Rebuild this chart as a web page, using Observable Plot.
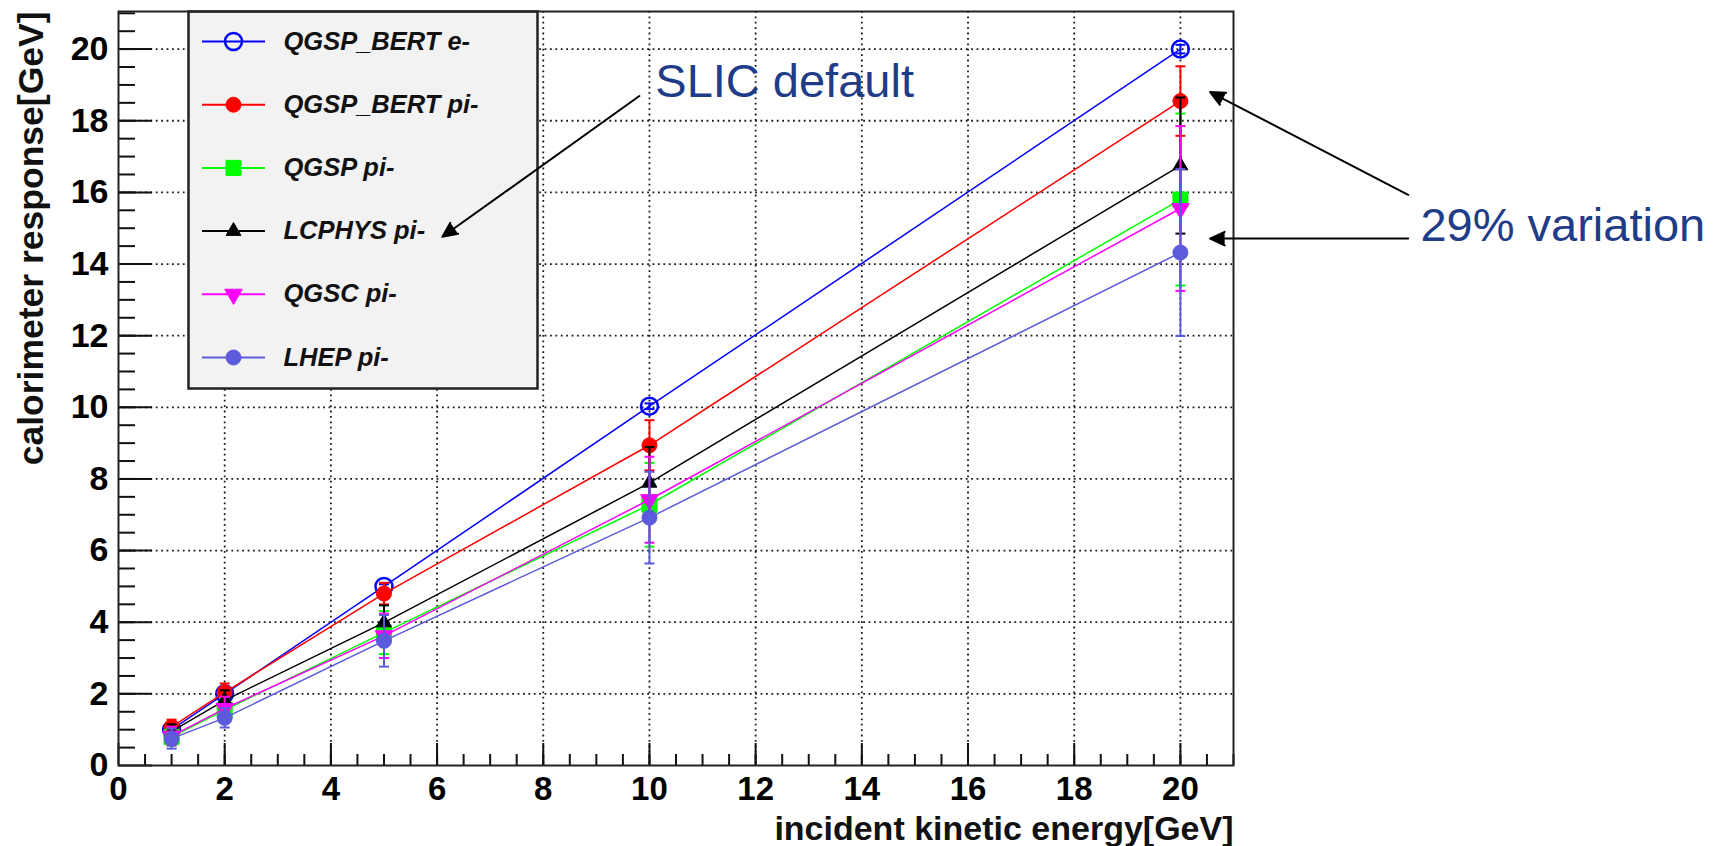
<!DOCTYPE html>
<html>
<head>
<meta charset="utf-8">
<script src="https://cdn.jsdelivr.net/npm/d3@7"></script>
<script src="https://cdn.jsdelivr.net/npm/@observablehq/plot@0.6"></script>
<style>
html, body { margin: 0; padding: 0; background: #fff; }
#chart { width: 1713px; height: 846px; }
</style>
</head>
<body>
<div id="chart"></div>
<script>
// ---------- data ----------
const energies = [1, 2, 5, 10, 20];
const seriesNames = ["QGSP_BERT e-", "QGSP_BERT pi-", "QGSP pi-", "LCPHYS pi-", "QGSC pi-", "LHEP pi-"];
const seriesColors = ["#0000ff", "#ff0000", "#00ff00", "#000000", "#ff00ff", "#5b5bdc"];

const respQGSPBERTe  = [1.00, 2.00, 5.00, 10.03, 20.00];
const errQGSPBERTe   = [0.03, 0.04, 0.06, 0.08, 0.12];
const respQGSPBERTpi = [1.08, 2.04, 4.80, 8.94, 18.55];
const errQGSPBERTpi  = [0.20, 0.25, 0.30, 0.70, 0.97];
const respQGSPpi     = [0.80, 1.55, 3.71, 7.28, 15.80];
const errQGSPpi      = [0.25, 0.32, 0.60, 1.17, 2.40];
const respLCPHYSpi   = [0.95, 1.82, 3.99, 7.89, 16.75];
const errLCPHYSpi    = [0.20, 0.28, 0.48, 1.00, 1.90];
const respQGSCpi     = [0.82, 1.59, 3.62, 7.42, 15.55];
const errQGSCpi      = [0.26, 0.33, 0.62, 1.20, 2.30];
const respLHEPpi     = [0.75, 1.33, 3.48, 6.92, 14.32];
const errLHEPpi      = [0.28, 0.27, 0.72, 1.28, 2.33];

const xTickLabels = [0, 2, 4, 6, 8, 10, 12, 14, 16, 18, 20];
const yTickLabels = [0, 2, 4, 6, 8, 10, 12, 14, 16, 18, 20];

const xTitle = "incident kinetic energy[GeV]";
const yTitle = "calorimeter response[GeV]";

const annotationLabels = [
  {text: "SLIC default", x: 10.11, y: 18.66},
  {text: "29% variation", x: 24.52, y: 14.65}
];
const annotationArrows = [
  {x1: 9.81, y1: 18.69, x2: 6.10, y2: 14.76},
  {x1: 24.29, y1: 15.93, x2: 20.56, y2: 18.80},
  {x1: 24.29, y1: 14.71, x2: 20.56, y2: 14.71}
];

// ---------- layout / styles ----------
const W = 1713, H = 846;
const M = {left: 118, right: 480, top: 11, bottom: 81};
const frameW = W - M.left - M.right;
const frameH = H - M.top - M.bottom;
const font = "'Liberation Sans', Arial, Helvetica, sans-serif";

const responses = [respQGSPBERTe, respQGSPBERTpi, respQGSPpi, respLCPHYSpi, respQGSCpi, respLHEPpi];
const errors = [errQGSPBERTe, errQGSPBERTpi, errQGSPpi, errLCPHYSpi, errQGSCpi, errLHEPpi];
const markerStyles = [
  {symbol: "circle", r: 8.5, fill: "none", sw: 2.5, rotate: 0},
  {symbol: "circle", r: 7.5, fill: "color", sw: 1, rotate: 0},
  {symbol: "square", r: 8.5, fill: "color", sw: 1, rotate: 0},
  {symbol: "triangle", r: 5.5, fill: "color", sw: 1, rotate: 0},
  {symbol: "triangle", r: 6.5, fill: "color", sw: 1, rotate: 180},
  {symbol: "circle", r: 7.5, fill: "color", sw: 1, rotate: 0}
];

const series = seriesNames.map((name, i) => ({
  name,
  color: seriesColors[i],
  style: markerStyles[i],
  points: energies.map((e, j) => ({energy: e, response: responses[i][j], err: errors[i][j]}))
}));

const capSymbol = {draw(ctx, size) { const r = Math.sqrt(size / Math.PI); ctx.moveTo(-r, 0); ctx.lineTo(r, 0); }};
const legendLine = {draw(ctx) { ctx.moveTo(-31.5, 0); ctx.lineTo(31.5, 0); }};

const xMinor = d3.range(0.5, 21.01, 0.5);
const yMinor = d3.range(0.5, 21.01, 0.5);

const marks = [];
const gridStyle = {stroke: "#1a1a1a", strokeOpacity: 1, strokeWidth: 1.8, strokeDasharray: "1.8,3.6"};
marks.push(Plot.gridX({ticks: xTickLabels.filter(d => d > 0), ...gridStyle}));
marks.push(Plot.gridY({ticks: yTickLabels.filter(d => d > 0), ...gridStyle}));
marks.push(Plot.tickY(yMinor, {insetRight: frameW - 17, stroke: "#111", strokeWidth: 2}));
marks.push(Plot.tickY(yTickLabels, {insetRight: frameW - 34, stroke: "#111", strokeWidth: 2}));
marks.push(Plot.tickX(xMinor, {insetTop: frameH - 11, stroke: "#111", strokeWidth: 2}));
marks.push(Plot.tickX(xTickLabels, {insetTop: frameH - 22, stroke: "#111", strokeWidth: 2}));

for (const s of series) {
  const st = s.style;
  marks.push(Plot.line(s.points, {x: "energy", y: "response", stroke: s.color, strokeWidth: 1.5}));
  marks.push(Plot.ruleX(s.points, {x: "energy", y1: d => d.response - d.err, y2: d => d.response + d.err, stroke: s.color, strokeWidth: 2}));
  marks.push(Plot.dot(s.points, {x: "energy", y: d => d.response + d.err, symbol: capSymbol, r: 5, fill: "none", stroke: s.color, strokeWidth: 2}));
  marks.push(Plot.dot(s.points, {x: "energy", y: d => d.response - d.err, symbol: capSymbol, r: 5, fill: "none", stroke: s.color, strokeWidth: 2}));
  marks.push(Plot.dot(s.points, {
    x: "energy", y: "response", symbol: st.symbol, r: st.r, rotate: st.rotate,
    fill: st.fill === "none" ? "none" : s.color, stroke: s.color, strokeWidth: st.sw
  }));
}

// legend box and entries
marks.push(Plot.frame({insetLeft: 70, insetRight: 696, insetBottom: 377, fill: "#f2f2f2", stroke: "#222", strokeWidth: 2.5}));
series.forEach((s, i) => {
  const st = s.style;
  const dy = 30 + i * 63.2;
  marks.push(Plot.dot([s.name], {frameAnchor: "top-left", dx: 115, dy, symbol: legendLine, fill: "none", stroke: s.color, strokeWidth: 2}));
  marks.push(Plot.dot([s.name], {frameAnchor: "top-left", dx: 115, dy, symbol: st.symbol, r: st.r, rotate: st.rotate,
    fill: st.fill === "none" ? "none" : s.color, stroke: s.color, strokeWidth: st.sw}));
  marks.push(Plot.text([s.name], {frameAnchor: "top-left", dx: 165, dy, text: d => d, textAnchor: "start", lineAnchor: "middle",
    fontSize: 25.5, fontWeight: "bold", fontStyle: "italic", fill: "#111", fontFamily: font}));
});

marks.push(Plot.frame({stroke: "#222", strokeWidth: 2}));

marks.push(Plot.axisX({ticks: xTickLabels, tickSize: 0, tickPadding: 11, fontSize: 33, fontWeight: "bold", label: null, fontFamily: font}));
marks.push(Plot.axisY({ticks: yTickLabels, tickSize: 0, tickPadding: 10, fontSize: 34, fontWeight: "bold", label: null, fontFamily: font}));

marks.push(Plot.text([xTitle], {frameAnchor: "bottom-right", text: d => d, textAnchor: "end", lineAnchor: "bottom", dx: 0, dy: 74,
  fontSize: 34, fontWeight: "bold", fontFamily: font, fill: "#111"}));
marks.push(Plot.text([yTitle], {frameAnchor: "top-left", text: d => d, rotate: -90, textAnchor: "end", lineAnchor: "middle", dx: -87, dy: 0,
  fontSize: 35.5, fontWeight: "bold", fontFamily: font, fill: "#111"}));

marks.push(Plot.arrow(annotationArrows, {x1: "x1", y1: "y1", x2: "x2", y2: "y2", stroke: "black", fill: "black", strokeWidth: 2, headLength: 12, headAngle: 50}));
marks.push(Plot.text(annotationLabels, {x: "x", y: "y", text: "text", textAnchor: "start", lineAnchor: "bottom",
  fontSize: 47, fill: "#1f3c88", fontFamily: font}));

const plot = Plot.plot({
  width: W,
  height: H,
  marginLeft: M.left,
  marginRight: M.right,
  marginTop: M.top,
  marginBottom: M.bottom,
  x: {type: "linear", domain: [0, 21.0]},
  y: {type: "linear", domain: [0, 21.05]},
  style: {fontFamily: font, color: "black", background: "white"},
  marks
});
document.getElementById("chart").appendChild(plot);
</script>
</body>
</html>
